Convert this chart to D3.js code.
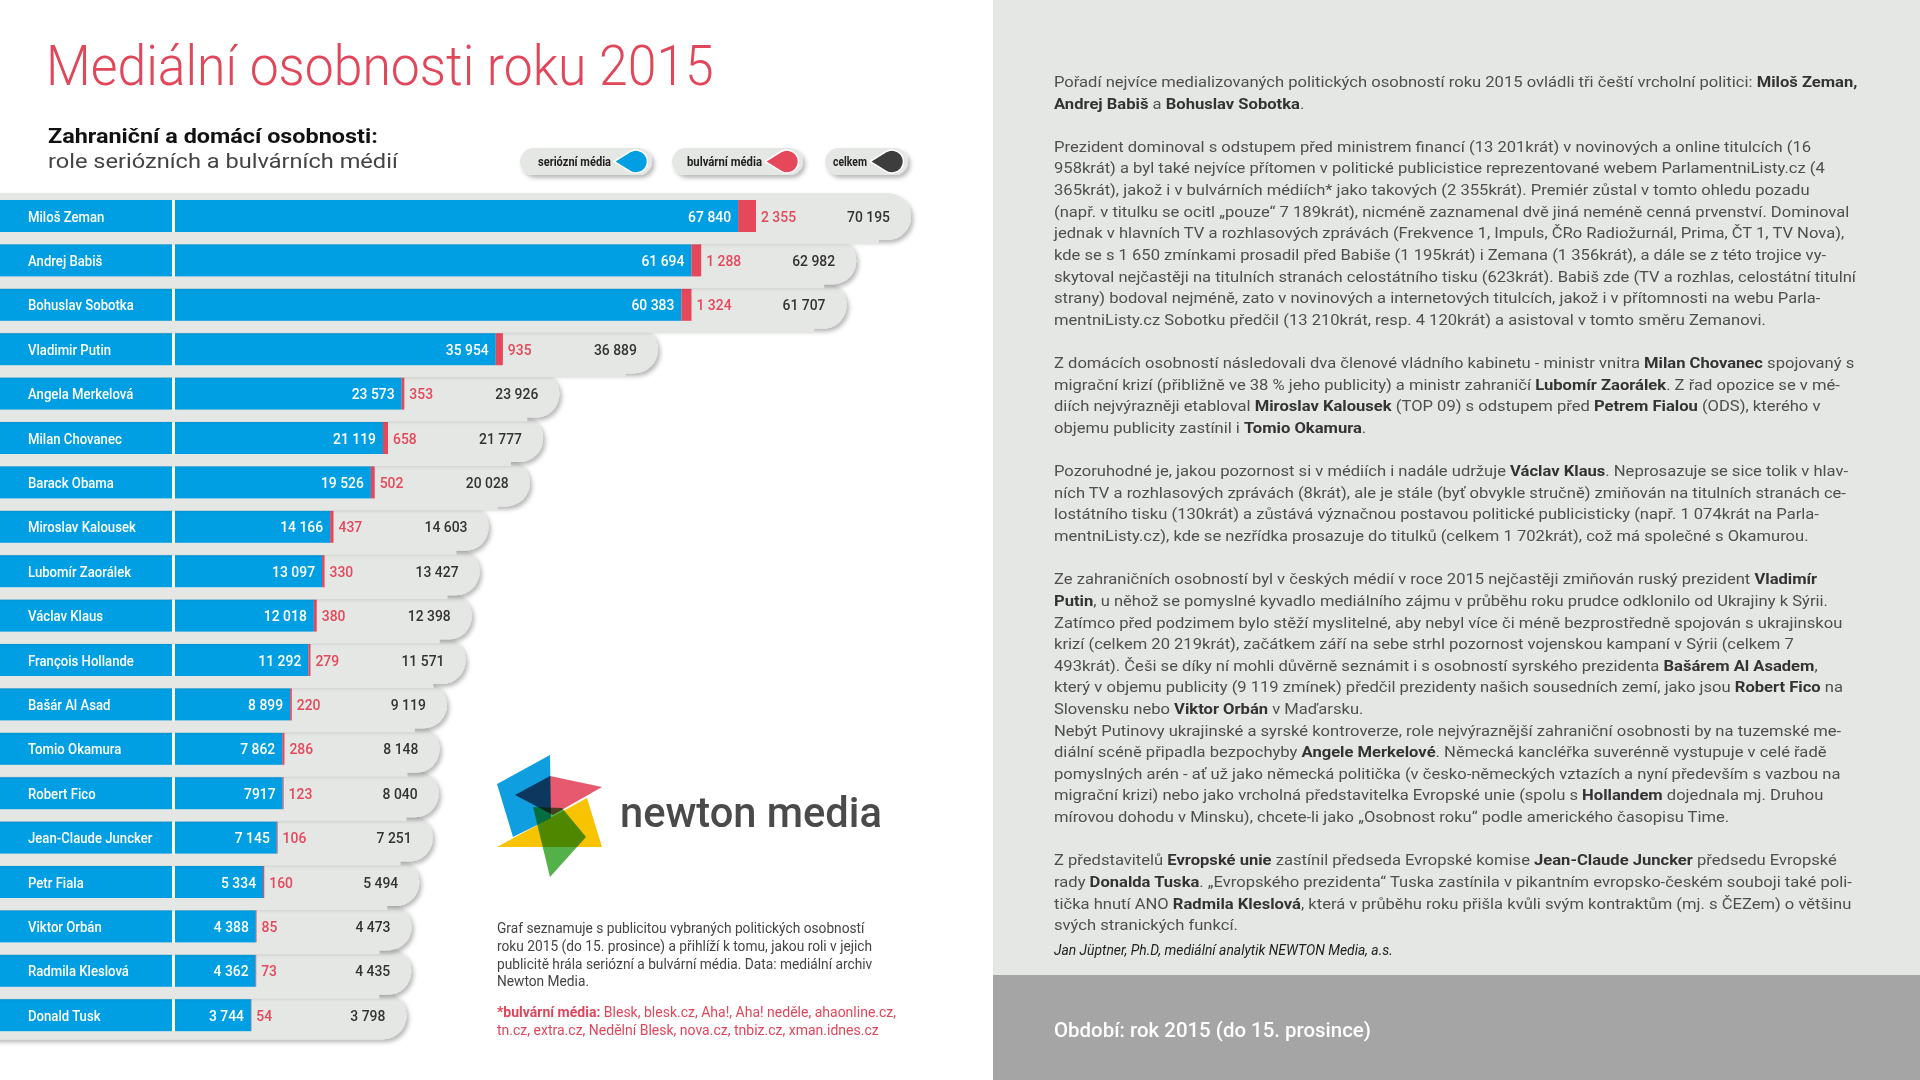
<!DOCTYPE html>
<html><head><meta charset="utf-8">
<script src="https://cdn.jsdelivr.net/npm/d3@7"></script>
<style>
body{margin:0;background:#fff;}
svg{display:block;font-family:Roboto,"Open Sans",sans-serif;}
text{white-space:pre;}
</style>
</head><body>
<svg id="c" width="1920" height="1080"></svg>
<script>
// ---------------- DATA ----------------
const names = ["Miloš Zeman","Andrej Babiš","Bohuslav Sobotka","Vladimir Putin","Angela Merkelová","Milan Chovanec","Barack Obama","Miroslav Kalousek","Lubomír Zaorálek","Václav Klaus","François Hollande","Bašár Al Asad","Tomio Okamura","Robert Fico","Jean-Claude Juncker","Petr Fiala","Viktor Orbán","Radmila Kleslová","Donald Tusk"];
const seriousValues = [67840,61694,60383,35954,23573,21119,19526,14166,13097,12018,11292,8899,7862,7917,7145,5334,4388,4362,3744];
const tabloidValues = [2355,1288,1324,935,353,658,502,437,330,380,279,220,286,123,106,160,85,73,54];
const totalValues = [70195,62982,61707,36889,23926,21777,20028,14603,13427,12398,11571,9119,8148,8040,7251,5494,4473,4435,3798];
const seriousLabelOverride = {"Robert Fico":"7917"};
const legendLabels = ["seriózní média","bulvární média","celkem"];

const titleText = "Mediální osobnosti roku 2015";
const subtitle1 = "Zahraniční a domácí osobnosti:";
const subtitle2 = "role seriózních a bulvárních médií";
const logoText = "newton media";
const descLines = ["Graf seznamuje s publicitou vybraných politických osobností","roku 2015 (do 15. prosince) a přihlíží k tomu, jakou roli v jejich","publicitě hrála seriózní a bulvární média. Data: mediální archiv","Newton Media."];
const tabloidNoteLines = ["**\u002Abulvární média:** Blesk, blesk.cz, Aha!, Aha! neděle, ahaonline.cz,","tn.cz, extra.cz, Nedělní Blesk, nova.cz, tnbiz.cz, xman.idnes.cz"];
const bodyParagraphs = [
 ["Pořadí nejvíce medializovaných politických osobností roku 2015 ovládli tři čeští vrcholní politici: **Miloš Zeman,**",
  "**Andrej Babiš** a **Bohuslav Sobotka**."],
 ["Prezident dominoval s odstupem před ministrem financí (13 201krát) v novinových a online titulcích (16",
  "958krát) a byl také nejvíce přítomen v politické publicistice reprezentované webem ParlamentniListy.cz (4",
  "365krát), jakož i v bulvárních médiích* jako takových (2 355krát). Premiér zůstal v tomto ohledu pozadu",
  "(např. v titulku se ocitl „pouze“ 7 189krát), nicméně zaznamenal dvě jiná neméně cenná prvenství. Dominoval",
  "jednak v hlavních TV a rozhlasových zprávách (Frekvence 1, Impuls, ČRo Radiožurnál, Prima, ČT 1, TV Nova),",
  "kde se s 1 650 zmínkami prosadil před Babiše (1 195krát) i Zemana (1 356krát), a dále se z této trojice vy-",
  "skytoval nejčastěji na titulních stranách celostátního tisku (623krát). Babiš zde (TV a rozhlas, celostátní titulní",
  "strany) bodoval nejméně, zato v novinových a internetových titulcích, jakož i v přítomnosti na webu Parla-",
  "mentniListy.cz Sobotku předčil (13 210krát, resp. 4 120krát) a asistoval v tomto směru Zemanovi."],
 ["Z domácích osobností následovali dva členové vládního kabinetu - ministr vnitra **Milan Chovanec** spojovaný s",
  "migrační krizí (přibližně ve 38 % jeho publicity) a ministr zahraničí **Lubomír Zaorálek**. Z řad opozice se v mé-",
  "diích nejvýrazněji etabloval **Miroslav Kalousek** (TOP 09) s odstupem před **Petrem Fialou** (ODS), kterého v",
  "objemu publicity zastínil i **Tomio Okamura**."],
 ["Pozoruhodné je, jakou pozornost si v médiích i nadále udržuje **Václav Klaus**. Neprosazuje se sice tolik v hlav-",
  "ních TV a rozhlasových zprávách (8krát), ale je stále (byť obvykle stručně) zmiňován na titulních stranách ce-",
  "lostátního tisku (130krát) a zůstává význačnou postavou politické publicisticky (např. 1 074krát na Parla-",
  "mentniListy.cz), kde se nezřídka prosazuje do titulků (celkem 1 702krát), což má společné s Okamurou."],
 ["Ze zahraničních osobností byl v českých médií v roce 2015 nejčastěji zmiňován ruský prezident **Vladimír**",
  "**Putin**, u něhož se pomyslné kyvadlo mediálního zájmu v průběhu roku prudce odklonilo od Ukrajiny k Sýrii.",
  "Zatímco před podzimem bylo stěží myslitelné, aby nebyl více či méně bezprostředně spojován s ukrajinskou",
  "krizí (celkem 20 219krát), začátkem září na sebe strhl pozornost vojenskou kampaní v Sýrii (celkem 7",
  "493krát). Češi se díky ní mohli důvěrně seznámit i s osobností syrského prezidenta **Bašárem Al Asadem**,",
  "který v objemu publicity (9 119 zmínek) předčil prezidenty našich sousedních zemí, jako jsou **Robert Fico** na",
  "Slovensku nebo **Viktor Orbán** v Maďarsku.",
  "Nebýt Putinovy ukrajinské a syrské kontroverze, role nejvýraznější zahraniční osobnosti by na tuzemské me-",
  "diální scéně připadla bezpochyby **Angele Merkelové**. Německá kancléřka suverénně vystupuje v celé řadě",
  "pomyslných arén - ať už jako německá politička (v česko-německých vztazích a nyní především s vazbou na",
  "migrační krizi) nebo jako vrcholná představitelka Evropské unie (spolu s **Hollandem** dojednala mj. Druhou",
  "mírovou dohodu v Minsku), chcete-li jako „Osobnost roku“ podle amerického časopisu Time."],
 ["Z představitelů **Evropské unie** zastínil předseda Evropské komise **Jean-Claude Juncker** předsedu Evropské",
  "rady **Donalda Tuska**. „Evropského prezidenta“ Tuska zastínila v pikantním evropsko-českém souboji také poli-",
  "tička hnutí ANO **Radmila Kleslová**, která v průběhu roku přišla kvůli svým kontraktům (mj. s ČEZem) o většinu",
  "svých stranických funkcí."]
];
const signatureText = "Jan Jüptner, Ph.D, mediální analytik NEWTON Media, a.s.";
const periodText = "Období: rok 2015 (do 15. prosince)";

// ---------------- STYLE ----------------
const BLUE = "#009fe3", RED = "#e5475b", DARK = "#3d3d3d", PILL = "#e5e7e4";

const svg = d3.select("#c");
const defs = svg.append("defs");
const f = defs.append("filter").attr("id","sh").attr("x","-10%").attr("y","-40%").attr("width","125%").attr("height","200%");
f.append("feDropShadow").attr("dx",2.5).attr("dy",3).attr("stdDeviation",2.2).attr("flood-color","#000").attr("flood-opacity",0.28);

const fmt = v => d3.format(",")(v).replace(/,/g, " ");

function measure(str, attrs){
  const t = svg.append("text").text(str);
  Object.entries(attrs).forEach(([k,v])=>t.attr(k,v));
  const w = t.node().getComputedTextLength();
  t.remove();
  return w;
}
function fitText(parent, x, y, str, targetW, attrs){
  const g = parent.append("g");
  const t = g.append("text").text(str);
  Object.entries(attrs).forEach(([k,v])=>t.attr(k,v));
  const s = targetW / t.node().getComputedTextLength();
  g.attr("transform", `translate(${x},${y}) scale(${s},1)`);
  return t;
}
function richLine(parent, str, x, y, s, attrs, boldAttrs){
  const g = parent.append("g").attr("transform", `translate(${x},${y}) scale(${s},1)`);
  const t = g.append("text");
  Object.entries(attrs).forEach(([k,v])=>t.attr(k,v));
  str.split("**").forEach((seg,k)=>{
    if(!seg) return;
    const ts = t.append("tspan").text(seg);
    if(k%2) Object.entries(boldAttrs).forEach(([a,v])=>ts.attr(a,v));
  });
  return t;
}

// ---------------- RIGHT PANEL ----------------
svg.append("rect").attr("x",993).attr("y",0).attr("width",927).attr("height",975).attr("fill","#e5e7e4");
svg.append("rect").attr("x",993).attr("y",975).attr("width",927).attr("height",105).attr("fill","#a5a5a5");

const bodyAttrs = {"font-size":15,"font-weight":400,"fill":"#4f4f4f"};
const bodyBold = {"font-weight":700,"fill":"#333"};
const bodyScale = 803 / measure(bodyParagraphs[1][6], bodyAttrs);
const bodyG = svg.append("g");
let lineIdx = 0;
bodyParagraphs.forEach(p=>{
  p.forEach(l=>{
    richLine(bodyG, l, 1054, 87 + lineIdx*21.62, bodyScale, bodyAttrs, bodyBold);
    lineIdx++;
  });
  lineIdx++;
});
fitText(svg, 1054, 955, signatureText, 339, {"font-size":14,"font-style":"italic","fill":"#222"});
fitText(svg, 1054, 1037, periodText, 317, {"font-size":21,"font-weight":500,"fill":"#fff"});

// ---------------- TITLE ----------------
fitText(svg, 46, 85, titleText, 668, {"font-size":56,"font-weight":300,"fill":"#e0475b"});
fitText(svg, 48, 143, subtitle1, 330, {"font-size":21,"font-weight":700,"fill":"#111"});
fitText(svg, 48, 168, subtitle2, 350, {"font-size":21,"font-weight":400,"fill":"#444"});

// ---------------- LEGEND ----------------
const legendColors = [BLUE, RED, DARK];
const legendX = [520, 672, 825], legendW = [132, 131, 83];
const legendTextW = [73, 75, 34];
legendLabels.forEach((lab,i)=>{
  const g = svg.append("g");
  const x0 = legendX[i], w = legendW[i], cy = 161.5;
  g.append("rect").attr("x",x0).attr("y",148).attr("width",w).attr("height",27).attr("rx",13.5).attr("fill",PILL).attr("filter","url(#sh)");
  const cx = x0 + w - 16, r = 11.5, d = 22;
  const phi = Math.acos(r/d);
  const p1 = [cx + r*Math.cos(Math.PI - phi), cy + r*Math.sin(Math.PI - phi)];
  const p2 = [cx + r*Math.cos(Math.PI + phi), cy + r*Math.sin(Math.PI + phi)];
  const path = `M${cx-d},${cy}L${p2[0]},${p2[1]}A${r},${r} 0 1 1 ${p1[0]},${p1[1]}Z`;
  g.append("path").attr("d",path).attr("fill",legendColors[i]).attr("stroke","#fff").attr("stroke-width",1.5);
  fitText(g, cx - d - 3 - legendTextW[i], cy + 4.5, lab, legendTextW[i], {"font-size":12.5,"font-weight":700,"fill":"#222"});
});

// ---------------- CHART ----------------
const rows = names.map((n,i)=>({name:n, s:seriousValues[i], t:tabloidValues[i], tot:totalValues[i], i}));
const y = d3.scaleBand().domain(names).range([193.8, 193.8 + 44.4*names.length]);
const x = d3.scaleLinear().domain([-6250, 70195]).range([175, 756]);
const cyOf = n => y(n) + y.bandwidth()/2;

const nameAttrs = {"font-size":15.5,"font-weight":500,"fill":"#fff"};
const nameScale = 106 / measure("François Hollande", nameAttrs);
const numAttrs = {"font-size":15.5,"font-weight":500};
const numScale = 43 / measure("21 119", numAttrs);

const chart = svg.append("g");
rows.slice().reverse().forEach(d=>{
  const g = chart.append("g");
  const c = cyOf(d.name);
  const right = x(d.tot) + 155;
  g.append("rect").attr("x",-40).attr("y",c-23).attr("width",right+40).attr("height",47).attr("rx",23.5)
    .attr("fill",PILL).attr("filter","url(#sh)");
  if(d.i < rows.length-1){
    g.append("rect").attr("x",-40).attr("y",c-20).attr("width",right+40-32).attr("height",48).attr("fill",PILL);
  }
  g.append("rect").attr("x",0).attr("y",c-16).attr("width",172).attr("height",32).attr("fill",BLUE);
  g.append("rect").attr("x",172).attr("y",c-16).attr("width",3).attr("height",32).attr("fill","#fff");
  g.append("rect").attr("x",x(-6250)).attr("y",c-16).attr("width",x(d.s)-x(-6250)).attr("height",32).attr("fill",BLUE);
  g.append("rect").attr("x",x(d.s)).attr("y",c-16).attr("width",x(d.tot)-x(d.s)).attr("height",32).attr("fill",RED);

  const ng = g.append("g").attr("transform",`translate(28,${c+5.5}) scale(${nameScale},1)`);
  const nt = ng.append("text").text(d.name);
  Object.entries(nameAttrs).forEach(([k,v])=>nt.attr(k,v));

  const addNum = (xx, str, anchor, fill)=>{
    const gg = g.append("g").attr("transform",`translate(${xx},${c+5.5}) scale(${numScale},1)`);
    const t = gg.append("text").text(str).attr("text-anchor",anchor).attr("fill",fill);
    Object.entries(numAttrs).forEach(([k,v])=>t.attr(k,v));
  };
  addNum(x(d.s)-7, seriousLabelOverride[d.name] || fmt(d.s), "end", "#fff");
  addNum(x(d.tot)+5, fmt(d.t), "start", RED);
  addNum(x(d.tot)+134, fmt(d.tot), "end", "#333");
});

// ---------------- LOGO ----------------
const logo = svg.append("g");
const logoPolys = [
  {pts:[[497,784],[550,755],[551,818],[513,837]], fill:"#0f9edf", blend:"normal", op:1},
  {pts:[[497,847],[587,798],[602,847]], fill:"#f8c300", blend:"multiply", op:1},
  {pts:[[515,795],[550,776],[602,787],[553,815]], fill:"#e4475e", blend:"multiply", op:0.9},
  {pts:[[533,807],[562,808],[586,837],[550,877]], fill:"#3fa935", blend:"multiply", op:0.9}
];
logo.selectAll("path").data(logoPolys).join("path")
  .attr("d", p=>d3.line()(p.pts)+"Z")
  .attr("fill", p=>p.fill).attr("opacity", p=>p.op)
  .style("mix-blend-mode", p=>p.blend);
fitText(svg, 620, 827, logoText, 262, {"font-size":42,"font-weight":500,"fill":"#4a4a4a"});

// ---------------- DESCRIPTION ----------------
const descAttrs = {"font-size":14.5,"font-weight":400,"fill":"#444"};
const descScale = 368 / measure(descLines[0], descAttrs);
descLines.forEach((l,i)=>richLine(svg, l, 497, 933 + i*17.8, descScale, descAttrs, {}));
const noteAttrs = {"font-size":14.5,"font-weight":400,"fill":"#e0465b"};
const noteScale = 397 / measure(tabloidNoteLines[0].replace(/\*\*/g,""), noteAttrs);
tabloidNoteLines.forEach((l,i)=>richLine(svg, l, 497, 1017 + i*18, noteScale, noteAttrs, {"font-weight":700}));
</script>
</body></html>
